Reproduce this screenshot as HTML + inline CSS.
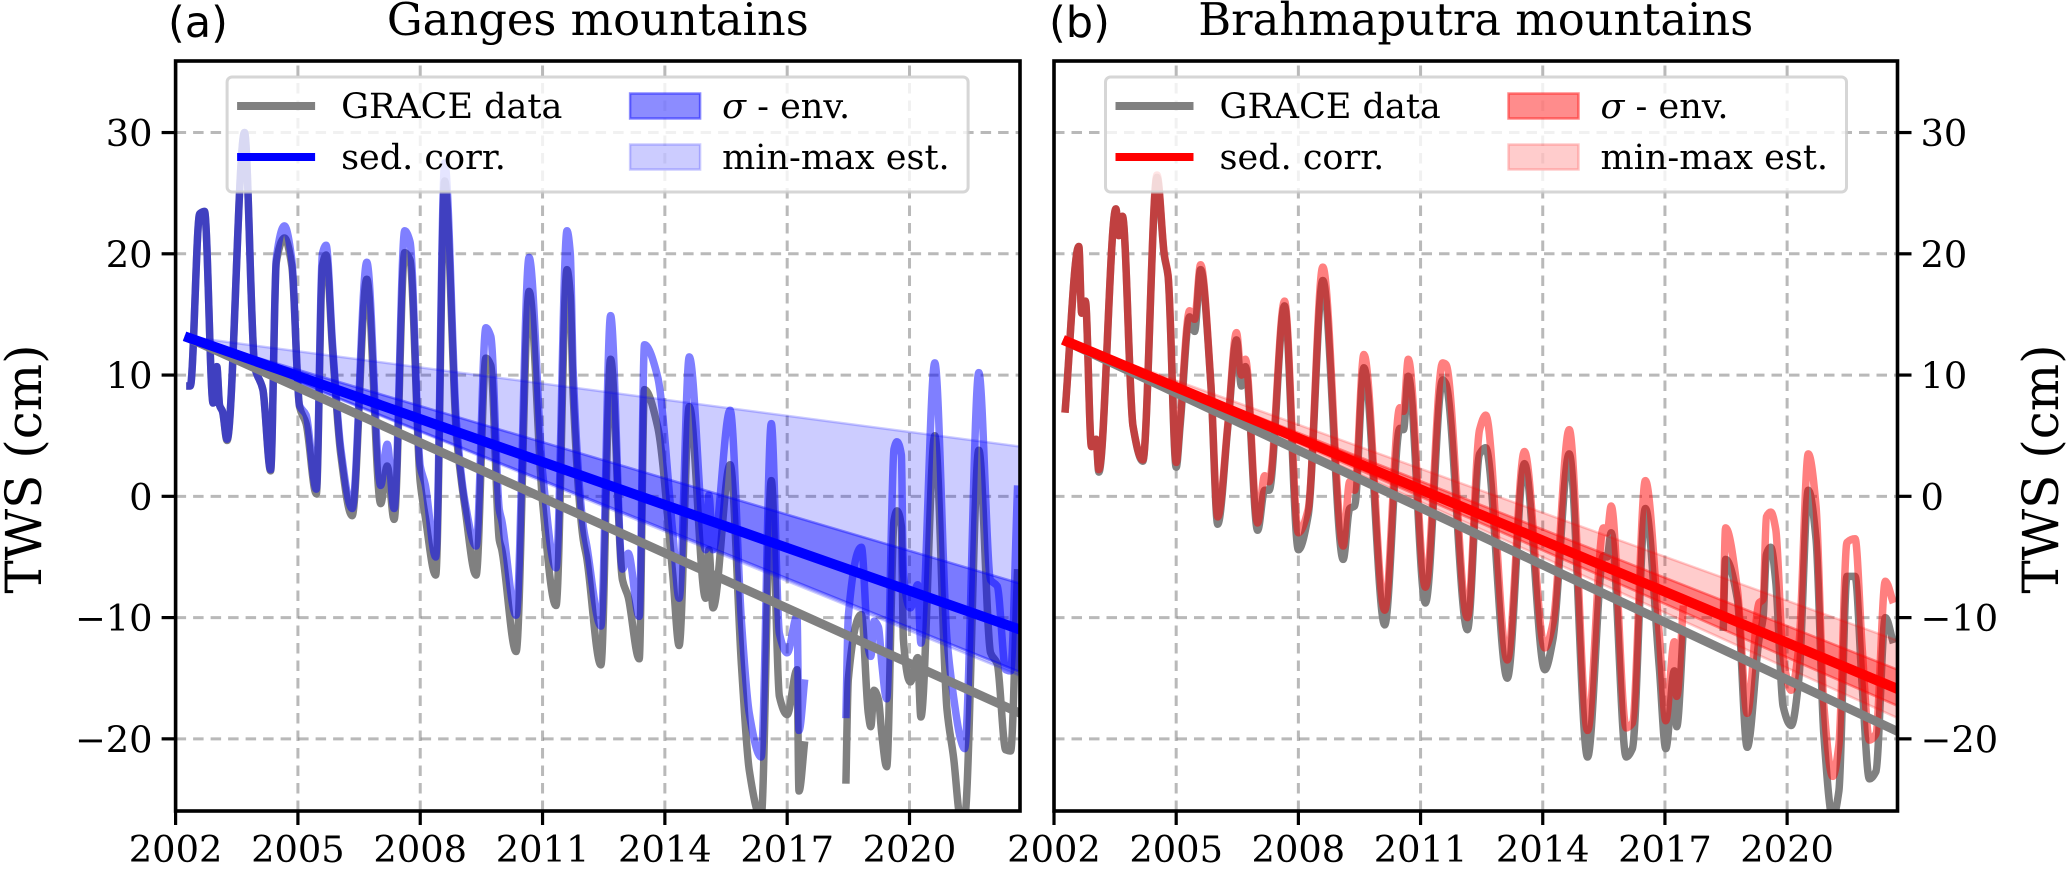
<!DOCTYPE html>
<html lang="en">
<head>
<meta charset="utf-8">
<title>TWS Ganges and Brahmaputra mountains</title>
<style>
html,body{margin:0;padding:0;background:#fff;}
svg{display:block;font-family:"DejaVu Serif","Liberation Serif",serif;}
</style>
</head>
<body>
<svg id="figure" xmlns="http://www.w3.org/2000/svg" width="2067" height="870" viewBox="0 0 2067 870"></svg>
<script>
const A_YEARS = [2002.26,2002.36,2002.59,2002.71,2002.92,2003.01,2003.08,2003.15,2003.26,2003.69,2003.94,2004.14,2004.33,2004.47,2004.67,2004.85,2005.04,2005.2,2005.45,2005.6,2005.69,2005.85,2006.05,2006.33,2006.69,2007.03,2007.19,2007.36,2007.62,2007.75,2008.0,2008.12,2008.38,2008.6,2008.89,2009.1,2009.37,2009.61,2009.73,2009.94,2010.0,2010.35,2010.67,2011.0,2011.33,2011.6,2011.68,2011.75,2012.0,2012.08,2012.43,2012.67,2012.96,2013.1,2013.37,2013.5,2013.82,2014.19,2014.35,2014.6,2015.0,2015.08,2015.18,2015.6,2015.88,2016.07,2016.36,2016.61,2016.81,2017.0,2017.24,2017.29,2017.43,2018.0,2018.44,2018.5,2018.82,2018.99,2019.05,2019.13,2019.24,2019.32,2019.44,2019.62,2019.69,2019.8,2019.85,2020.02,2020.2,2020.28,2020.62,2020.92,2021.08,2021.25,2021.35,2021.7,2021.99,2022.15,2022.36,2022.48,2022.65];
const A_GRACE = [9.1,9.1,23.3,23.5,7.7,10.7,7.5,7.0,4.6,30,10.7,8.8,2.1,19.3,21.3,19,7.4,6,0.2,19,19.9,12,3.5,-1.6,17.9,-0.6,2.5,-1.9,20.1,19.5,1.2,-1.6,-6.5,26,5,-1,-6.5,11.4,10.8,-3.6,-4.4,-12.8,16.9,-0.5,-9,18.7,16.5,8.5,-3.6,-5,-13.9,11.3,-6.9,-8.3,-13.4,8.8,5.8,-6.3,-12.3,7.4,-8.4,-4.4,-9.2,2.6,-14,-22.6,-26.5,1.3,-16.5,-18,-14.3,-24.3,-20.2,null,-23.7,-15.1,-9.75,-17.9,-19,-16,-16.8,-19.6,-22.3,-2,-1.2,-2.5,-11.8,-15.3,-13.3,-18.2,5,-17.6,-21.5,-26.5,-26.5,3.8,-12.9,-13.8,-20.9,-21,-6];
const A_SED = [9.1,9.1,23.3,23.5,7.7,10.7,7.5,7.0,4.7,30,10.7,8.8,2.2,19.6,22.3,19.5,7.5,6.7,0.6,20,20.7,12.5,4,-1,19.3,0.9,4.3,-1,21.9,21,2.5,1,-5,27.5,6,-0.5,-4.1,13.9,13.2,-1.1,-2,-9.8,19.7,2,-5.9,21.9,20,10.5,-2.5,-4,-10.7,14.9,-6,-4.7,-9.9,12.5,9.9,-2.8,-8.4,11.5,-4.4,0.1,-4.4,7.1,-10.4,-17.9,-21.5,6,-11.3,-12.9,-9.9,-19.3,-15.1,null,-18.3,-9.9,-4.2,-12.5,-13.2,-10.3,-10.8,-13.8,-16.7,3.9,4.5,3.4,-6.3,-9.2,-7.3,-12.1,11,-11.8,-16.5,-20,-20.8,10.2,-6.9,-7.4,-14.3,-14.4,0.9];
const B_YEARS = [2002.27,2002.61,2002.68,2002.77,2002.92,2003.03,2003.1,2003.52,2003.59,2003.68,2003.94,2004.18,2004.53,2004.71,2004.8,2005.0,2005.1,2005.33,2005.45,2005.6,2005.85,2006.02,2006.27,2006.48,2006.6,2006.7,2007.0,2007.17,2007.28,2007.66,2008.0,2008.24,2008.6,2009.1,2009.26,2009.38,2009.61,2010.12,2010.49,2010.58,2010.7,2011.12,2011.54,2011.62,2012.15,2012.45,2012.6,2013.13,2013.55,2014.05,2014.25,2014.65,2015.1,2015.49,2015.58,2015.68,2016.05,2016.2,2016.52,2016.86,2017.02,2017.23,2017.29,2017.45,2018.0,2018.43,2018.49,2018.78,2019.02,2019.31,2019.41,2019.49,2019.6,2019.72,2019.9,2020.1,2020.29,2020.52,2020.71,2020.9,2021.12,2021.27,2021.47,2021.67,2021.84,2022.02,2022.18,2022.41,2022.61];
const B_GRACE = [6.9,20.6,15.1,16.1,4.1,4.7,2,23.7,21.5,23.1,5.8,2.9,26.3,19.8,18.2,2.4,6,14.8,13.6,18.7,9.3,-2.3,5.8,12.9,9.1,10.7,-2.8,0.5,0.5,15.7,-4.4,-1.6,17.8,-5.2,-1,-0.8,10.6,-10.6,5.6,5.5,9.9,-8.8,9.6,9.3,-11,3.5,4,-15,2.7,-14.3,-11.8,3.5,-21.5,-4.9,-5,-3,-21.5,-20.8,-1,-14,-20.8,-14.4,-19,-11,null,-11.1,-5.2,-8.5,-20.7,-11.8,-10,-4.8,-4.2,-7,-17.3,-18.9,-15,0.5,-3.5,-19.6,-26.5,-24.3,-6.6,-6.6,-15.5,-23.3,-22.7,-10,-12.1];
const B_SED = [6.9,20.6,15.1,16.1,4.1,4.7,2.2,23.7,21.5,23.1,5.8,3,26.5,19.9,18.3,2.8,6.5,15.3,14.6,19.1,9.4,-1.7,6,13.5,10,11.3,-2.2,1.7,1.2,16.1,-3,-1.1,18.9,-4.1,1.2,0.5,11.7,-9.4,7.3,7,11.3,-7.5,11,10.9,-10,5.5,6.7,-13.5,3.7,-12.5,-10.5,5.5,-19.3,-2.6,-3,-0.8,-19.1,-18.7,1.3,-11.3,-18.5,-12,-16.5,-9,null,-10,-2.6,-7.7,-17.9,-8.8,-8.5,-1.7,-1.3,-2.7,-13.2,-16,-12.3,3.5,-0.8,-17.2,-23.1,-20.5,-3.8,-3.5,-12.4,-20.1,-19.6,-7,-8.8];
const TREND_YEARS = [2002.22,2022.72];
const A_TREND_GRACE = [13.2,-17.9];
const A_TREND_SED = [13.2,-11];
const A_SIGMA_UPPER = [13.2,-7.2];
const A_SIGMA_LOWER = [13.2,-14.5];
const A_MAX = [13.2,4.1];
const A_MIN = [13.2,-14.8];
const B_TREND_GRACE = [12.9,-19.4];
const B_TREND_SED = [12.9,-15.9];
const B_SIGMA_UPPER = [12.9,-14.3];
const B_SIGMA_LOWER = [12.9,-17.3];
const B_MAX = [12.9,-11.9];
const B_MIN = [12.9,-18.3];
const X_TICKS = [2002,2005,2008,2011,2014,2017,2020];
const Y_TICKS = [-20,-10,0,10,20,30];

const svg = document.getElementById('figure');
const NS = 'http://www.w3.org/2000/svg';
const X_MIN = 2002, X_MAX = 2022.71, Y_MIN = -25.95, Y_MAX = 35.9;
const TOP = 61, BOTTOM = 811;

function make(tag, attrs, parent){
  const el = document.createElementNS(NS, tag);
  for (const k in attrs) el.setAttribute(k, attrs[k]);
  parent.appendChild(el);
  return el;
}
function linePath(years, values, xs, ys){
  let d = '', pen = false;
  for (let i = 0; i < years.length; i++){
    if (values[i] === null){ pen = false; continue; }
    d += (pen ? 'L' : 'M') + xs(years[i]).toFixed(1) + ' ' + ys(values[i]).toFixed(1);
    pen = true;
  }
  return d;
}
/* monotone cubic through the data points, broken at null gaps */
function smoothSegment(pts){
  const n = pts.length;
  if (n < 2) return '';
  const dx = [], m = [], t = [];
  for (let i = 0; i < n - 1; i++){
    dx[i] = pts[i + 1][0] - pts[i][0];
    m[i] = (pts[i + 1][1] - pts[i][1]) / dx[i];
  }
  t[0] = m[0];
  t[n - 1] = m[n - 2];
  for (let i = 1; i < n - 1; i++){
    if (m[i - 1] * m[i] <= 0) t[i] = 0;
    else t[i] = 3 * (dx[i - 1] + dx[i]) / ((2 * dx[i] + dx[i - 1]) / m[i - 1] + (dx[i] + 2 * dx[i - 1]) / m[i]);
  }
  let d = 'M' + pts[0][0].toFixed(1) + ' ' + pts[0][1].toFixed(1);
  for (let i = 0; i < n - 1; i++){
    const h = dx[i] / 3;
    d += 'C' + (pts[i][0] + h).toFixed(1) + ' ' + (pts[i][1] + t[i] * h).toFixed(1) + ' ' +
         (pts[i + 1][0] - h).toFixed(1) + ' ' + (pts[i + 1][1] - t[i + 1] * h).toFixed(1) + ' ' +
         pts[i + 1][0].toFixed(1) + ' ' + pts[i + 1][1].toFixed(1);
  }
  return d;
}
function smoothPath(years, values, xs, ys){
  let d = '', seg = [];
  for (let i = 0; i < years.length; i++){
    if (values[i] === null){ d += smoothSegment(seg); seg = []; continue; }
    seg.push([xs(years[i]), ys(values[i])]);
  }
  return d + smoothSegment(seg);
}
function bandPath(years, upper, lower, xs, ys){
  let d = '';
  for (let i = 0; i < years.length; i++) d += (i ? 'L' : 'M') + xs(years[i]).toFixed(1) + ' ' + ys(upper[i]).toFixed(1);
  for (let i = years.length - 1; i >= 0; i--) d += 'L' + xs(years[i]).toFixed(1) + ' ' + ys(lower[i]).toFixed(1);
  return d + 'Z';
}
function fmt(v){ return v < 0 ? '\u2212' + Math.abs(v) : String(v); }

function drawPanel(p){
  const xs = v => p.left + (v - X_MIN) / (X_MAX - X_MIN) * (p.right - p.left);
  const ys = v => BOTTOM - (v - Y_MIN) / (Y_MAX - Y_MIN) * (BOTTOM - TOP);
  const g = make('g', {}, svg);
  
  

  const clipId = 'clip-' + p.key;
  const defs = make('defs', {}, g);
  const clip = make('clipPath', {id: clipId}, defs);
  make('rect', {x: p.left, y: TOP, width: p.right - p.left, height: BOTTOM - TOP}, clip);

  const gridStyle = {stroke: '#808080', 'stroke-opacity': 0.55, 'stroke-width': 3, 'stroke-dasharray': '10.5 7', fill: 'none'};
  X_TICKS.forEach(t => {
    const l = make('line', Object.assign({x1: xs(t), x2: xs(t), y1: BOTTOM, y2: TOP}, gridStyle), g);
    
    
  });
  Y_TICKS.forEach(t => {
    const l = make('line', Object.assign({x1: p.left, x2: p.right, y1: ys(t), y2: ys(t)}, gridStyle), g);
    
    
  });

  const plot = make('g', {'clip-path': 'url(#' + clipId + ')'}, g);
  const common = {fill: 'none', 'stroke-width': 7.5, 'stroke-linejoin': 'round', 'stroke-linecap': 'butt'};

  const graceLine = make('path', Object.assign({d: smoothPath(p.years, p.grace, xs, ys), stroke: '#808080'}, common), plot);
  
  

  const sedLine = make('path', Object.assign({d: smoothPath(p.years, p.sed, xs, ys), stroke: p.color, 'stroke-opacity': 0.5}, common), plot);
  
  

  const mm = make('path', {d: bandPath(TREND_YEARS, p.max, p.min, xs, ys), fill: p.color, 'fill-opacity': 0.2, stroke: p.color, 'stroke-opacity': 0.2, 'stroke-width': 2.5}, plot);
  
  

  const sg = make('path', {d: bandPath(TREND_YEARS, p.sigU, p.sigL, xs, ys), fill: p.color, 'fill-opacity': 0.4, stroke: p.color, 'stroke-opacity': 0.4, 'stroke-width': 2.5}, plot);
  
  

  const tg = make('path', {d: linePath(TREND_YEARS, p.trendG, xs, ys), stroke: '#808080', 'stroke-width': 9, fill: 'none'}, plot);
  
  

  const ts = make('path', {d: linePath(TREND_YEARS, p.trendS, xs, ys), stroke: p.color, 'stroke-width': 10, fill: 'none'}, plot);
  
  

  // legend
  const lx = p.left + 51.5, ly = 77, lw = 741, lh = 115;
  const legend = make('g', {}, g);
  
  
  make('rect', {x: lx, y: ly, width: lw, height: lh, rx: 5, ry: 5, fill: '#fff', 'fill-opacity': 0.8, stroke: '#cccccc', 'stroke-opacity': 0.8, 'stroke-width': 3}, legend);

  const row1 = ly + 29, row2 = ly + 80;
  const lg1 = make('line', {x1: lx + 10, x2: lx + 88, y1: row1, y2: row1, stroke: '#808080', 'stroke-width': 8}, legend);
  
  
  const lg2 = make('line', {x1: lx + 10, x2: lx + 88, y1: row2, y2: row2, stroke: p.color, 'stroke-width': 8}, legend);
  
  

  const px = lx + 403, pw = 70, ph = 25;
  const lp1 = make('rect', {x: px, y: row1 - ph / 2, width: pw, height: ph, fill: p.color, 'fill-opacity': 0.45, stroke: p.color, 'stroke-opacity': 0.45, 'stroke-width': 2.5}, legend);
  
  
  const lp2 = make('rect', {x: px, y: row2 - ph / 2, width: pw, height: ph, fill: p.color, 'fill-opacity': 0.2, stroke: p.color, 'stroke-opacity': 0.2, 'stroke-width': 2.5}, legend);
  
  

  const labels = [
    [lx + 114, row1 + 12, 'GRACE data', 'legend-grace-label'],
    [lx + 114, row2 + 12, 'sed. corr.', 'legend-sed-label'],
    [lx + 495, row2 + 12, 'min-max est.', 'legend-min-max-label']
  ];
  labels.forEach(a => {
    const t = make('text', {x: a[0], y: a[1], 'font-size': 35, fill: '#000'}, legend);
    t.textContent = a[2];
    
    
  });
  const sl = make('text', {x: lx + 495, y: row1 + 12, 'font-size': 35, fill: '#000'}, legend);
  
  
  const sigma = make('tspan', {'font-style': 'italic'}, sl);
  sigma.textContent = '\u03C3';
  const rest = make('tspan', {}, sl);
  rest.textContent = ' - env.';

  // axes frame
  const frame = make('rect', {x: p.left, y: TOP, width: p.right - p.left, height: BOTTOM - TOP, fill: 'none', stroke: '#000', 'stroke-width': 3.6}, g);
  
  

  // ticks
  X_TICKS.forEach(t => {
    const m = make('line', {x1: xs(t), x2: xs(t), y1: BOTTOM, y2: BOTTOM + 14, stroke: '#000', 'stroke-width': 3.2}, g);
    
    
    const lb = make('text', {x: xs(t), y: 862, 'text-anchor': 'middle', 'font-size': 36.8, fill: '#000'}, g);
    lb.textContent = String(t);
    
    
  });
  Y_TICKS.forEach(t => {
    const ax = p.side === 'left' ? p.left : p.right;
    const dir = p.side === 'left' ? -1 : 1;
    const m = make('line', {x1: ax, x2: ax + dir * 14, y1: ys(t), y2: ys(t), stroke: '#000', 'stroke-width': 3.2}, g);
    
    
    const lb = make('text', {x: ax + dir * 23, y: ys(t) + 13.5, 'text-anchor': p.side === 'left' ? 'end' : 'start', 'font-size': 36.8, fill: '#000'}, g);
    lb.textContent = fmt(t);
    
    
  });

  // titles
  const tl = make('text', {x: (p.left + p.right) / 2, y: 35, 'text-anchor': 'middle', 'font-size': 44.8, fill: '#000'}, g);
  tl.textContent = p.title;
  
  
  const pl = make('text', {x: p.tagX, y: 37, 'font-size': 43, fill: '#000', style: 'font-family:"DejaVu Sans","Liberation Sans",sans-serif'}, g);
  pl.textContent = p.tag;
  
  

  // y axis label
  const yl = make('text', {transform: 'translate(' + p.ylabelX + ',469) rotate(-90)', 'text-anchor': 'middle', 'font-size': 50, fill: '#000'}, g);
  yl.textContent = 'TWS (cm)';
  
  
}

drawPanel({key:'ganges', left:175.6, right:1020, side:'left', color:'#0000ff', title:'Ganges mountains', tag:'(a)', tagX:168, ylabelX:41,
  years:A_YEARS, grace:A_GRACE, sed:A_SED, trendG:A_TREND_GRACE, trendS:A_TREND_SED, sigU:A_SIGMA_UPPER, sigL:A_SIGMA_LOWER, max:A_MAX, min:A_MIN});
drawPanel({key:'brahmaputra', left:1054, right:1897.5, side:'right', color:'#ff0000', title:'Brahmaputra mountains', tag:'(b)', tagX:1049, ylabelX:2058,
  years:B_YEARS, grace:B_GRACE, sed:B_SED, trendG:B_TREND_GRACE, trendS:B_TREND_SED, sigU:B_SIGMA_UPPER, sigL:B_SIGMA_LOWER, max:B_MAX, min:B_MIN});
</script>
</body>
</html>
